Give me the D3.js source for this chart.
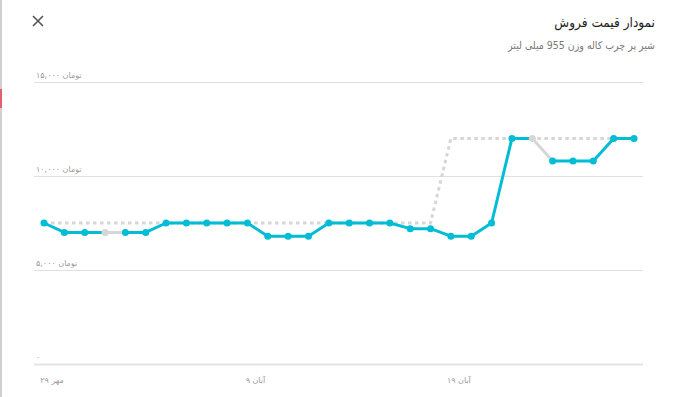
<!DOCTYPE html>
<html>
  <head>
    <meta charset="utf-8">
    <style>
      body { margin: 0; background: #fff; }
      text { font-family: "DejaVu Sans", sans-serif; }
      .hdr { font-family: "DejaVu Sans Condensed", "DejaVu Sans", sans-serif; }
    </style>
  </head>
  <body>
    <div id="my_dataviz"></div>
  </body>
</html>

<script src="https://d3js.org/d3.v7.min.js"></script>

<script>
    // days (Persian calendar), one point per day
    var days = ["۲۹ مهر", "۳۰ مهر", "۱ آبان", "۲ آبان", "۳ آبان", "۴ آبان", "۵ آبان", "۶ آبان",
                "۷ آبان", "۸ آبان", "۹ آبان", "۱۰ آبان", "۱۱ آبان", "۱۲ آبان", "۱۳ آبان", "۱۴ آبان",
                "۱۵ آبان", "۱۶ آبان", "۱۷ آبان", "۱۸ آبان", "۱۹ آبان", "۲۰ آبان", "۲۱ آبان", "۲۲ آبان",
                "۲۳ آبان", "۲۴ آبان", "۲۵ آبان", "۲۶ آبان", "۲۷ آبان", "۲۸ آبان"];

    // sale price (toman)
    var salePrice = [7500, 7000, 7000, 7000, 7000, 7000, 7500, 7500, 7500, 7500,
                     7500, 6800, 6800, 6800, 7500, 7500, 7500, 7500, 7200, 7200,
                     6800, 6800, 7500, 12000, 12000, 10800, 10800, 10800, 12000, 12000];

    // 0 = not available that day (drawn in gray)
    var available = [1, 1, 1, 0, 1, 1, 1, 1, 1, 1,
                     1, 1, 1, 1, 1, 1, 1, 1, 1, 1,
                     1, 1, 1, 1, 0, 1, 1, 1, 1, 1];

    // consumer price (dotted line)
    var consumerPrice = [7500, 7500, 7500, 7500, 7500, 7500, 7500, 7500, 7500, 7500,
                         7500, 7500, 7500, 7500, 7500, 7500, 7500, 7500, 7500, 7500,
                         12000, 12000, 12000, 12000, 12000, 12000, 12000, 12000, 12000, 12000];

    var yTicks = [0, 5000, 10000, 15000];
    var yTickLabels = ["۰", "۵,۰۰۰ تومان", "۱۰,۰۰۰ تومان", "۱۵,۰۰۰ تومان"];
    var xTickDays = ["۲۹ مهر", "۹ آبان", "۱۹ آبان"];

    var title = "نمودار قیمت فروش";
    var subtitle = "شیر پر چرب کاله وزن 955 میلی لیتر";

    var LRM = "\u200E";

    var W = 679, H = 397;
    var svg = d3.select("#my_dataviz")
      .append("svg")
        .attr("width", W)
        .attr("height", H);

    svg.append("rect").attr("width", W).attr("height", H).attr("fill", "#fff");

    // page edge bits on the left
    svg.append("rect").attr("x", 0).attr("y", 0).attr("width", 2).attr("height", H).attr("fill", "#d0d0d0");
    svg.append("rect").attr("x", 0).attr("y", 89).attr("width", 2).attr("height", 19).attr("fill", "#e06070");

    // header
    svg.append("text")
      .attr("class", "hdr")
      .attr("x", 655).attr("y", 27)
      .attr("text-anchor", "end")
      .style("font-size", "13.5px")
      .attr("fill", "#222")
      .text(title);
    svg.append("text")
      .attr("class", "hdr")
      .attr("x", 655).attr("y", 49)
      .attr("text-anchor", "end")
      .style("font-size", "10.5px")
      .attr("fill", "#777")
      .text(subtitle);

    // close icon
    var cx = 38, cy = 21, s = 5;
    svg.append("path")
      .attr("d", "M" + (cx - s) + "," + (cy - s) + "L" + (cx + s) + "," + (cy + s) +
                 "M" + (cx + s) + "," + (cy - s) + "L" + (cx - s) + "," + (cy + s))
      .attr("stroke", "#555").attr("stroke-width", 1.6).attr("fill", "none");

    // scales
    var x = d3.scalePoint()
      .domain(days)
      .range([44, 634]);
    var y = d3.scaleLinear()
      .domain([0, 15000])
      .range([364, 82]);

    // grid + y labels
    var grid = svg.append("g");
    grid.selectAll("line")
      .data(yTicks)
      .enter()
      .append("line")
        .attr("x1", 34).attr("x2", 643)
        .attr("y1", function(d) { return y(d) + 0.5; })
        .attr("y2", function(d) { return y(d) + 0.5; })
        .attr("stroke", function(d) { return d === 0 ? "#e4e4e4" : "#e0e0e0"; })
        .attr("stroke-width", function(d) { return d === 0 ? 2 : 1; });
    grid.selectAll("text")
      .data(yTicks)
      .enter()
      .append("text")
        .attr("x", 36)
        .attr("y", function(d) { return y(d) - 4; })
        .style("font-size", "8px")
        .attr("fill", "#9a9a9a")
        .text(function(d, i) { return LRM + yTickLabels[i]; });

    // x labels
    svg.append("g").selectAll("text")
      .data(xTickDays)
      .enter()
      .append("text")
        .attr("x", function(d) { return x(d) + 8; })
        .attr("y", 383)
        .attr("text-anchor", "middle")
        .style("font-size", "8px")
        .attr("fill", "#9a9a9a")
        .text(function(d) { return LRM + d; });

    // dotted consumer price
    var line = d3.line()
      .x(function(d) { return x(d.day); })
      .y(function(d) { return y(d.v); });

    var consumerData = days.map(function(d, i) { return {day: d, v: consumerPrice[i]}; });
    svg.append("path")
      .datum(consumerData)
      .attr("d", line)
      .attr("fill", "none")
      .attr("stroke", "#d6d6d6")
      .attr("stroke-width", 3)
      .attr("stroke-dasharray", "3.5,3.5");

    // sale price segments
    var saleData = days.map(function(d, i) { return {day: d, v: salePrice[i], ok: available[i]}; });
    var segs = [];
    for (var i = 0; i < saleData.length - 1; i++) {
      segs.push({pts: [saleData[i], saleData[i + 1]], ok: saleData[i].ok});
    }
    svg.append("g").selectAll("path")
      .data(segs)
      .enter()
      .append("path")
        .attr("d", function(d) { return line(d.pts); })
        .attr("fill", "none")
        .attr("stroke", function(d) { return d.ok ? "#00bcd4" : "#d6d6d6"; })
        .attr("stroke-width", 3)
        .attr("stroke-linecap", "round");

    svg.append("g").selectAll("circle")
      .data(saleData)
      .enter()
      .append("circle")
        .attr("cx", function(d) { return x(d.day); })
        .attr("cy", function(d) { return y(d.v); })
        .attr("r", 3.5)
        .attr("fill", function(d) { return d.ok ? "#00bcd4" : "#d6d6d6"; });
</script>
